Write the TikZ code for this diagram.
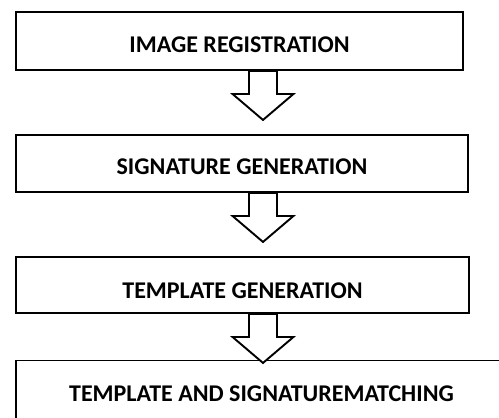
\documentclass[tikz,border=0pt]{standalone}
\usepackage{fontspec}
\setmainfont{Carlito}
\usetikzlibrary{positioning}

\begin{document}
\begin{tikzpicture}[x=1pt,y=-1pt,
  stage/.style={draw=black,line width=1.9pt,fill=white,inner sep=0pt,text depth=0pt,text height=22pt,font=\fontsize{24}{29}\selectfont\bfseries},
  hollow/.style={draw=black,line width=1.9pt,fill=white,line join=miter}]
\useasboundingbox (0,0) rectangle (499,418);
\node[stage,minimum width=447pt,minimum height=58pt] (ir) at (239.5,41) {IMAGE REGISTRATION};
\node[stage,minimum width=452pt,minimum height=57pt] (sg) at (242,163.5) {SIGNATURE GENERATION};
\node[stage,minimum width=453pt,minimum height=56pt,text height=27pt] (tg) at (242.5,285) {TEMPLATE GENERATION};
% last box runs off the page on the right and at the bottom
\node[stage,draw=none,fill=none,text height=15pt] (tsm) at (261.5,394) {TEMPLATE AND SIGNATUREMATCHING};
\draw[line width=1.9pt] (16,418) -- (16,360.5) -- (499,360.5);
% hollow block arrows between the stages
\foreach \a in {ir,sg,tg}
  \draw[hollow] (249,0 |- \a.south) -- ++(0,23) -- ++(-16.5,0) -- ++(30.5,26) -- ++(30.5,-26) -- ++(-16.5,0) -- ++(0,-23) -- cycle;
\end{tikzpicture}
\end{document}
